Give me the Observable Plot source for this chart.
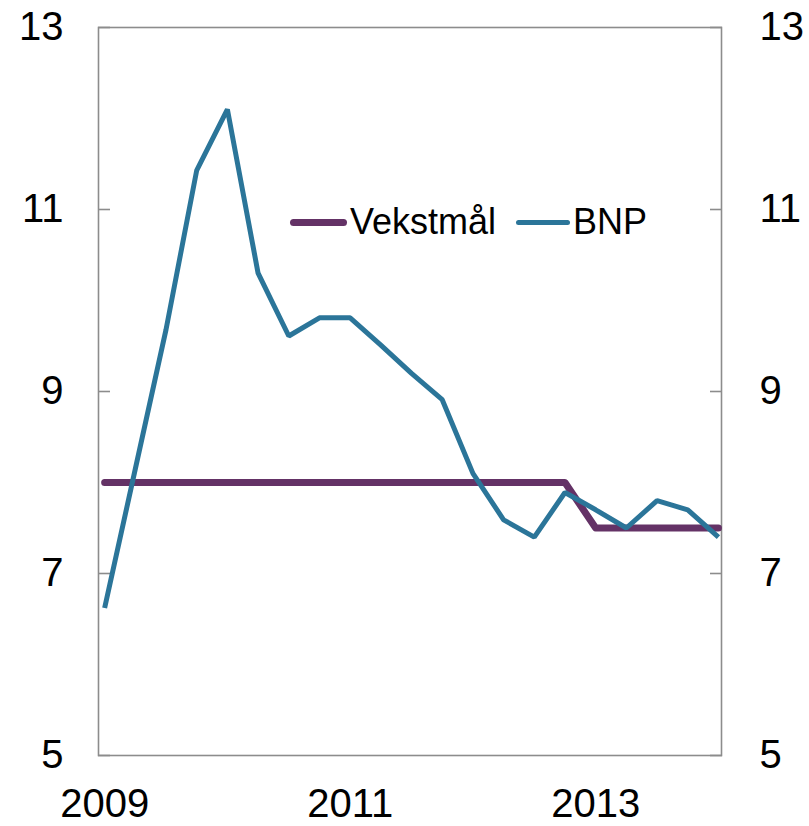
<!DOCTYPE html>
<html>
<head>
<meta charset="utf-8">
<script src="https://cdn.jsdelivr.net/npm/d3@7"></script>
<script src="https://cdn.jsdelivr.net/npm/@observablehq/plot@0.6"></script>
<style>
  html, body { margin: 0; padding: 0; background: #fff; }
  #wrap { position: relative; width: 809px; height: 826px; font-family: "Liberation Sans", Arial, sans-serif; }
  #legend { position: absolute; left: 290px; top: 201px; display: flex; align-items: center; font-size: 36px; line-height: 42px; color: #000; white-space: nowrap; }
  .sw { display: inline-block; border-radius: 4px; margin-right: 3px; }
  .item { display: flex; align-items: center; }
</style>
</head>
<body>
<div id="wrap"></div>
<script>
const quarters = ["2009K1","2009K2","2009K3","2009K4","2010K1","2010K2","2010K3","2010K4",
  "2011K1","2011K2","2011K3","2011K4","2012K1","2012K2","2012K3","2012K4",
  "2013K1","2013K2","2013K3","2013K4","2014K1"];
const bnp = [6.62, 8.15, 9.68, 11.43, 12.10, 10.30, 9.61, 9.81, 9.81, 9.51, 9.20, 8.91,
  8.10, 7.59, 7.40, 7.89, 7.70, 7.50, 7.80, 7.70, 7.40];
const vekstmal = [8, 8, 8, 8, 8, 8, 8, 8, 8, 8, 8, 8, 8, 8, 8, 8, 7.5, 7.5, 7.5, 7.5, 7.5];
const seriesNames = ["Vekstmål", "BNP"];
const seriesColors = ["#643266", "#2b7599"];
const yTicks = [5, 7, 9, 11, 13];
const xTickQuarters = ["2009K1", "2011K1", "2013K1"];
const xTickLabels = ["2009", "2011", "2013"];

const rows = [];
quarters.forEach((q, i) => {
  rows.push({i, q, series: seriesNames[0], value: vekstmal[i]});
  rows.push({i, q, series: seriesNames[1], value: bnp[i]});
});
const xTickIdx = xTickQuarters.map(q => quarters.indexOf(q));

const axisColor = "#8c8c8c";
const chart = Plot.plot({
  width: 809,
  height: 826,
  marginTop: 27,
  marginBottom: 71,
  marginLeft: 98,
  marginRight: 88,
  style: {fontFamily: "Liberation Sans, Arial, sans-serif", fontSize: "40px", color: "#000", background: "#fff", overflow: "visible"},
  x: {domain: [-0.2, quarters.length - 1 + 0.1]},
  y: {domain: [5, 13]},
  marks: [
    Plot.frame({stroke: axisColor, strokeWidth: 1.6}),
    Plot.axisY({anchor: "left", ticks: yTicks, tickSize: -12, tickPadding: 47, stroke: axisColor, strokeWidth: 1.6, fill: "#000", fontSize: 40, label: null, tickFormat: d => String(d)}),
    Plot.axisY({anchor: "right", ticks: yTicks, tickSize: -12, tickPadding: 50, stroke: axisColor, strokeWidth: 1.6, fill: "#000", fontSize: 40, label: null, tickFormat: d => String(d)}),
    Plot.axisX({anchor: "bottom", ticks: xTickIdx, tickSize: 0, tickPadding: 33, fill: "#000", fontSize: 40, label: null, tickFormat: d => xTickLabels[xTickIdx.indexOf(d)]}),
    Plot.line(rows.filter(d => d.series === seriesNames[0]), {x: "i", y: "value", stroke: seriesColors[0], strokeWidth: 7, strokeLinecap: "round", strokeLinejoin: "round"}),
    Plot.line(rows.filter(d => d.series === seriesNames[1]), {x: "i", y: "value", stroke: seriesColors[1], strokeWidth: 5, strokeLinecap: "butt", strokeLinejoin: "miter"})
  ]
});
const wrap = document.getElementById("wrap");
wrap.appendChild(chart);

const legend = document.createElement("div");
legend.id = "legend";
seriesNames.forEach((name, k) => {
  const item = document.createElement("span");
  item.className = "item";
  const sw = document.createElement("span");
  sw.className = "sw";
  sw.style.background = seriesColors[k];
  sw.style.height = (k === 0 ? 7 : 5) + "px";
  sw.style.width = (k === 0 ? 57 : 54) + "px";
  if (k > 0) item.style.marginLeft = "20px";
  item.appendChild(sw);
  item.appendChild(document.createTextNode(name));
  legend.appendChild(item);
});
wrap.appendChild(legend);
</script>
</body>
</html>
